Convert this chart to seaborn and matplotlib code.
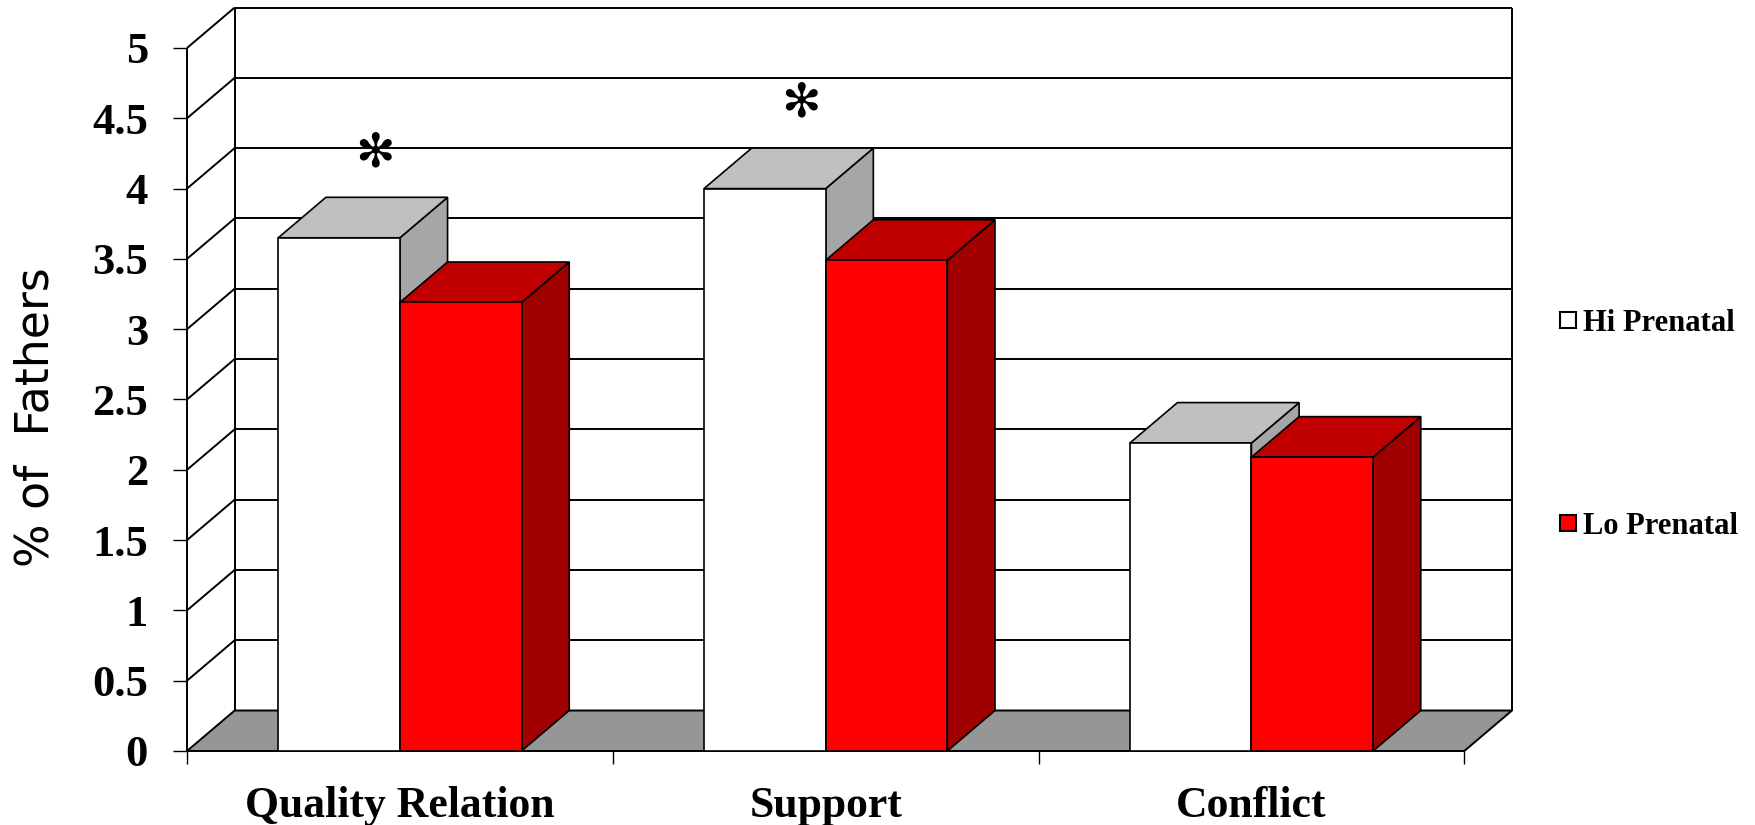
import matplotlib
matplotlib.use("Agg")
import matplotlib.pyplot as plt
from matplotlib.patches import Polygon, Rectangle
from matplotlib.lines import Line2D
from matplotlib.colors import to_rgba
import pandas as pd
import seaborn as sns

categories = ["Quality Relation", "Support", "Conflict"]
groups = ["Hi Prenatal", "Lo Prenatal"]
hi_prenatal = [3.65, 4.00, 2.19]
lo_prenatal = [3.19, 3.49, 2.09]
significant = [True, True, False]
y_ticks = [0, 0.5, 1, 1.5, 2, 2.5, 3, 3.5, 4, 4.5, 5]
y_tick_labels = ["0", "0.5", "1", "1.5", "2", "2.5", "3", "3.5", "4", "4.5", "5"]
y_label = "% of  Fathers"

df = pd.DataFrame({
    "category": categories * 2,
    "group": [groups[0]] * len(categories) + [groups[1]] * len(categories),
    "value": hi_prenatal + lo_prenatal,
})

front_colors = {"Hi Prenatal": "#FFFFFF", "Lo Prenatal": "#FF0000"}
top_colors = {"Hi Prenatal": "#C0C0C0", "Lo Prenatal": "#C00000"}
side_colors = {"Hi Prenatal": "#A6A6A6", "Lo Prenatal": "#A00000"}
floor_color = "#969696"

# depth of the pseudo-3D box, in data units
DX, DY = 0.112, 0.288
YMAX = 5
LW = 1.4

plt.rcParams["font.family"] = ["Liberation Serif", "DejaVu Serif"]
plt.rcParams["text.color"] = "black"

fig = plt.figure(figsize=(17.55, 8.25), dpi=100)
ax = fig.add_axes([187 / 1755, 74 / 825, 1325 / 1755, 743.5 / 825])

sns.barplot(data=df, x="category", y="value", hue="group", order=categories,
            hue_order=groups, palette=front_colors, width=2 / 3.5,
            saturation=1, edgecolor="black", linewidth=1.2, errorbar=None,
            legend=False, ax=ax)

bars = sorted([p for p in ax.patches if isinstance(p, Rectangle) and p.get_height() > 0],
              key=lambda p: p.get_x())

xl, xr = -0.5, len(categories) - 0.5
ax.set_xlim(xl, xr + DX)
ax.set_ylim(0, YMAX + DY)
for s in ax.spines.values():
    s.set_visible(False)

# walls, floor and gridlines
line_kw = dict(color="black", lw=LW, zorder=0.5, clip_on=False, solid_capstyle="butt")
for t in y_ticks[1:]:
    ax.plot([xl + DX, xr + DX], [t + DY, t + DY], **line_kw)
    ax.plot([xl, xl + DX], [t, t + DY], **line_kw)
ax.plot([xl, xl], [0, YMAX], **line_kw)
ax.plot([xl + DX, xl + DX], [DY, YMAX + DY], **line_kw)
ax.plot([xr + DX, xr + DX], [DY, YMAX + DY], **line_kw)
ax.add_patch(Polygon([(xl, 0), (xr, 0), (xr + DX, DY), (xl + DX, DY)],
                     closed=True, fc=floor_color, ec="black", lw=LW, zorder=1,
                     clip_on=False))

# extrude every bar: side and top faces behind its front face
def group_of(patch):
    fc = patch.get_facecolor()
    for g in groups:
        if all(abs(a - b) < 0.02 for a, b in zip(fc[:3], to_rgba(front_colors[g])[:3])):
            return g
    return groups[0]

for i, p in enumerate(bars):
    g = group_of(p)
    x0, w, h = p.get_x(), p.get_width(), p.get_height()
    z = 2 + i
    ax.add_patch(Polygon([(x0 + w, 0), (x0 + w, h), (x0 + w + DX, h + DY), (x0 + w + DX, DY)],
                         closed=True, fc=side_colors[g], ec="black", lw=1.2, zorder=z))
    ax.add_patch(Polygon([(x0, h), (x0 + w, h), (x0 + w + DX, h + DY), (x0 + DX, h + DY)],
                         closed=True, fc=top_colors[g], ec="black", lw=1.2, zorder=z))
    p.set_zorder(z + 0.5)
    p.set_clip_on(False)

# significance marks above the Hi Prenatal bars
hi_bars = [p for p in bars if group_of(p) == groups[0]]
for p, sig in zip(hi_bars, significant):
    if sig:
        ax.text(p.get_x() + p.get_width() / 2 + DX * 0.75, p.get_height() + 0.6, "\u273B",
                ha="center", va="center", fontsize=34, family=["DejaVu Sans"],
                zorder=20)

# axes ticks and labels
ax.set_yticks(y_ticks)
ax.set_yticklabels(y_tick_labels, fontweight="bold", fontsize=32)
ax.tick_params(axis="y", left=True, direction="out", length=10, width=1,
               pad=18, color="black", labelcolor="black")
ax.set_xticks(range(len(categories)))
ax.set_xticklabels(categories, fontweight="bold", fontsize=31.5)
ax.set_xticks([xl + k for k in range(len(categories) + 1)], minor=True)
ax.tick_params(axis="x", which="major", bottom=True, length=0, pad=25, labelcolor="black")
ax.tick_params(axis="x", which="minor", bottom=True, direction="out", length=9,
               width=1, color="black")
ax.set_xlabel("")
ax.set_ylabel("")

fig.text(36 / 1755, (825 - 417) / 825, y_label, rotation=90, ha="center", va="center",
         fontsize=33, family=["DejaVu Sans"])

handles = [Line2D([], [], marker="s", ls="none", markersize=11.5,
                  markerfacecolor=front_colors[g], markeredgecolor="black",
                  markeredgewidth=1.5) for g in groups]
fig.legend(handles, groups, loc="center left", bbox_to_anchor=(1559 / 1755, 0.485),
           frameon=False, prop={"weight": "bold", "size": 22}, handlelength=0.6,
           handletextpad=0.2, labelspacing=5.7, borderpad=0, borderaxespad=0)

fig.savefig("out.png", dpi=100, facecolor="white")
